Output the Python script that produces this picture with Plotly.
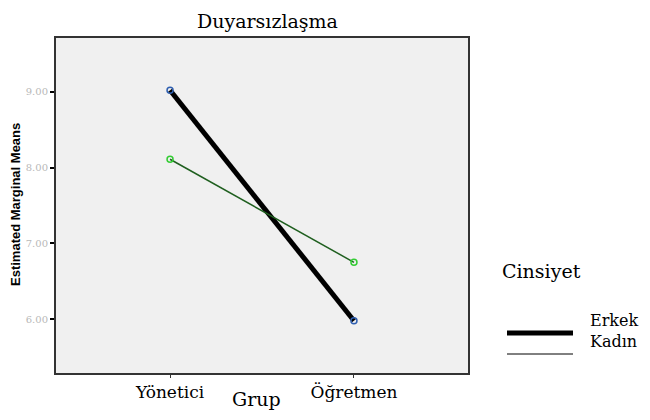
import plotly.graph_objects as go

groups = ["Yönetici", "Öğretmen"]
erkek = [9.02, 5.98]
kadin = [8.11, 6.75]
series_names = ["Erkek", "Kadın"]
y_ticks = [6, 7, 8, 9]

serif = "DejaVu Serif, Liberation Serif, serif"

# page has an 8px body margin; work in page pixels and subtract it
OFF = 8
W, H = 650 - OFF, 420 - OFF
PL, PR, PT, PB = 56, 468, 38, 373  # plot area in page px
PW, PH = PR - PL, PB - PT


def px(xp):
    return (xp - PL) / PW


def py(yp):
    return (PB - yp) / PH


fig = go.Figure()
fig.add_trace(go.Scatter(
    x=groups, y=erkek, name=series_names[0], mode="lines+markers",
    line=dict(color="black", width=5),
    marker=dict(symbol="circle-open", size=6, color="#2f5fb0", line=dict(width=1.5)),
    showlegend=False,
))
fig.add_trace(go.Scatter(
    x=groups, y=kadin, name=series_names[1], mode="lines+markers",
    line=dict(color="#1f5f1f", width=1.5),
    marker=dict(symbol="circle-open", size=6, color="#33cc33", line=dict(width=1.5)),
    showlegend=False,
))

fig.update_layout(
    width=W, height=H,
    margin=dict(l=PL - OFF, r=650 - PR, t=PT - OFF, b=420 - PB, pad=0),
    paper_bgcolor="white",
    plot_bgcolor="#f0f0f0",
    xaxis=dict(
        type="category", range=[-0.62, 1.62],
        showline=True, mirror=True, linecolor="#333", linewidth=2,
        ticks="outside", ticklen=3, tickcolor="#333", tickwidth=1,
        showgrid=False, zeroline=False,
        tickfont=dict(family=serif, size=17, color="black"),
    ),
    yaxis=dict(
        range=[5.29, 9.71],
        tickvals=y_ticks, ticktext=[f"{v:.2f}" for v in y_ticks],
        showline=True, mirror=True, linecolor="#333", linewidth=2,
        ticks="outside", ticklen=4, tickcolor="black", tickwidth=2,
        showgrid=False, zeroline=False,
        tickfont=dict(family=serif, size=10, color="#b8b8b8"),
    ),
    showlegend=False,
)

annotations = [
    dict(text="Duyarsızlaşma", xref="paper", yref="paper", x=px(267), y=py(8),
         xanchor="center", yanchor="top", showarrow=False,
         font=dict(family=serif, size=19, color="black")),
    dict(text="Grup", xref="paper", yref="paper", x=px(256), y=py(399),
         xanchor="center", yanchor="middle", showarrow=False,
         font=dict(family=serif, size=19, color="black")),
    dict(text="<b>Estimated Marginal Means</b>", xref="paper", yref="paper",
         x=px(15), y=py(205), xanchor="center", yanchor="middle", textangle=-90,
         showarrow=False, font=dict(family="Liberation Sans, Arial, sans-serif", size=13, color="black")),
    dict(text="Cinsiyet", xref="paper", yref="paper", x=px(500), y=py(271),
         xanchor="left", yanchor="middle", showarrow=False,
         font=dict(family=serif, size=19, color="black")),
    dict(text=series_names[0], xref="paper", yref="paper", x=px(588), y=py(320),
         xanchor="left", yanchor="middle", showarrow=False,
         font=dict(family=serif, size=16, color="black")),
    dict(text=series_names[1], xref="paper", yref="paper", x=px(588), y=py(341),
         xanchor="left", yanchor="middle", showarrow=False,
         font=dict(family=serif, size=16, color="black")),
]
fig.update_layout(annotations=annotations)

shapes = [
    dict(type="line", xref="paper", yref="paper",
         x0=px(507), x1=px(573), y0=py(333), y1=py(333),
         line=dict(color="black", width=5)),
    dict(type="line", xref="paper", yref="paper",
         x0=px(507), x1=px(573), y0=py(354), y1=py(354),
         line=dict(color="black", width=1)),
]
fig.update_layout(shapes=shapes)

fig.write_html("out.html")
